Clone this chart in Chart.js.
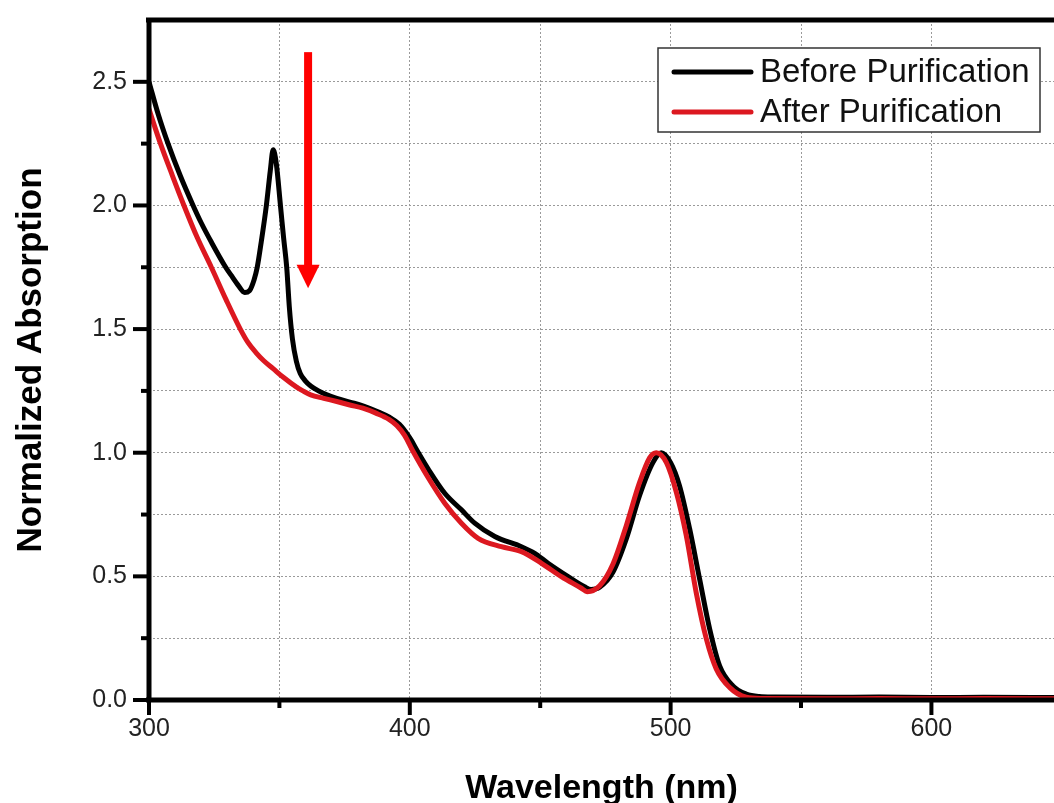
<!DOCTYPE html>
<html>
<head>
<meta charset="utf-8">
<script src="https://cdn.jsdelivr.net/npm/chart.js@4.4.1/dist/chart.umd.min.js"></script>
<style>
  html, body { margin: 0; padding: 0; background: #fff; }
  #spectrum { display: block; }
</style>
</head>
<body>
<canvas id="spectrum" width="1054" height="803"></canvas>
<script>
// ==========================
// DONNÉES
// ==========================
const wlBefore = [300, 303.5, 307.3, 312, 316.9, 320, 324, 329.4, 332, 334, 336.7, 338.5, 340.3, 341.5, 343, 345, 346.5, 347.6, 348.8, 350.4, 351.6, 352.8, 353.8, 355, 356.5, 358, 360, 362, 365, 368, 372, 377, 382, 388, 392, 396, 400, 403, 407, 413.4, 419.8, 424.9, 432.6, 442.8, 447.9, 453, 460.7, 467, 469.5, 472.8, 477.9, 483, 488.1, 493.2, 496.4, 500, 503.4, 507.3, 511.1, 515, 518.8, 523.9, 529, 534, 540, 560, 580, 600, 620, 647];
const absBefore = [2.50, 2.37, 2.25, 2.12, 2.00, 1.93, 1.85, 1.75, 1.71, 1.68, 1.648, 1.655, 1.70, 1.75, 1.85, 2.00, 2.14, 2.225, 2.17, 2.00, 1.87, 1.75, 1.59, 1.46, 1.37, 1.32, 1.29, 1.27, 1.25, 1.235, 1.22, 1.205, 1.19, 1.165, 1.145, 1.115, 1.06, 1.005, 0.935, 0.836, 0.769, 0.715, 0.661, 0.62, 0.593, 0.553, 0.499, 0.458, 0.447, 0.456, 0.517, 0.651, 0.827, 0.96, 1.00, 0.96, 0.867, 0.692, 0.49, 0.286, 0.138, 0.057, 0.024, 0.014, 0.012, 0.011, 0.012, 0.01, 0.011, 0.01];

const wlAfter = [300, 302, 304.4, 309, 313.4, 318.5, 323.9, 329.5, 335, 338, 341, 344, 347.6, 351.5, 356.6, 359, 362, 367, 372, 377, 382, 387, 392, 395, 398, 401, 407, 413.4, 419.8, 426.2, 435.1, 442.8, 450.5, 458.1, 465.8, 468, 472.8, 477.9, 483, 488.1, 492, 494.5, 498.4, 502.2, 506, 509.8, 513.7, 517.5, 522.6, 529, 535, 560, 580, 600, 620, 647];
const absAfter = [2.39, 2.325, 2.25, 2.12, 2.00, 1.87, 1.75, 1.62, 1.50, 1.445, 1.405, 1.372, 1.34, 1.305, 1.265, 1.25, 1.234, 1.22, 1.207, 1.193, 1.18, 1.16, 1.135, 1.11, 1.07, 1.01, 0.90, 0.796, 0.715, 0.654, 0.62, 0.60, 0.553, 0.499, 0.452, 0.438, 0.462, 0.55, 0.705, 0.88, 0.98, 1.00, 0.96, 0.84, 0.665, 0.435, 0.247, 0.126, 0.051, 0.011, 0.006, 0.005, 0.006, 0.005, 0.006, 0.005];

const xTicks = [300, 350, 400, 450, 500, 550, 600];
const xTickLabels = ["300", "", "400", "", "500", "", "600"];
const yTicks = [0, 0.25, 0.5, 0.75, 1.0, 1.25, 1.5, 1.75, 2.0, 2.25, 2.5, 2.75];
const yTickLabels = ["0.0", "", "0.5", "", "1.0", "", "1.5", "", "2.0", "", "2.5", ""];

const seriesNames = ["Before Purification", "After Purification"];
const seriesColors = ["#000000", "#dc1820"];

// flèche rouge (en unités des axes)
const arrowX = 361;
const arrowTop = 2.62;
const arrowHeadBase = 1.76;
const arrowTip = 1.665;

const FONT = "'Liberation Sans', Arial, sans-serif";

/* =======================================================
   CADRE + GRADUATIONS
======================================================= */
const framePlugin = {
  id: "frame",
  afterDatasetsDraw(chart) {
    const { ctx, chartArea } = chart;
    const { left, right, top, bottom } = chartArea;
    const xs = chart.scales.x;
    const ys = chart.scales.y;

    ctx.save();
    ctx.strokeStyle = "#000";
    ctx.lineCap = "butt";

    // graduations
    ctx.lineWidth = 4;
    xTicks.forEach((v, i) => {
      const px = xs.getPixelForValue(v);
      const len = xTickLabels[i] ? 15 : 8;
      ctx.beginPath();
      ctx.moveTo(px, bottom);
      ctx.lineTo(px, bottom + len);
      ctx.stroke();
    });
    yTicks.forEach((v, i) => {
      if (v === 2.75) return;
      const py = ys.getPixelForValue(v);
      const len = yTickLabels[i] ? 16 : 8;
      ctx.beginPath();
      ctx.moveTo(left, py);
      ctx.lineTo(left - len, py);
      ctx.stroke();
    });

    // axes
    ctx.lineWidth = 5;
    ctx.beginPath();
    ctx.moveTo(left - 3, top);
    ctx.lineTo(right, top);
    ctx.moveTo(left, top - 2.5);
    ctx.lineTo(left, bottom + 2.5);
    ctx.moveTo(left - 3, bottom);
    ctx.lineTo(right, bottom);
    ctx.stroke();
    ctx.restore();
  },
};

/* =======================================================
   FLÈCHE + LÉGENDE
======================================================= */
const annotPlugin = {
  id: "annot",
  afterDraw(chart) {
    const { ctx } = chart;
    const xs = chart.scales.x;
    const ys = chart.scales.y;

    // flèche
    const ax = xs.getPixelForValue(arrowX);
    const y0 = ys.getPixelForValue(arrowTop);
    const yb = ys.getPixelForValue(arrowHeadBase);
    const yt = ys.getPixelForValue(arrowTip);
    ctx.save();
    ctx.fillStyle = "#ff0000";
    ctx.fillRect(ax - 4, y0, 8, yb - y0 + 1);
    ctx.beginPath();
    ctx.moveTo(ax - 11.5, yb);
    ctx.lineTo(ax + 11.5, yb);
    ctx.lineTo(ax, yt);
    ctx.closePath();
    ctx.fill();

    // légende
    const bx = 658, by = 48, bw = 382, bh = 84;
    ctx.fillStyle = "#fff";
    ctx.fillRect(bx, by, bw, bh);
    ctx.strokeStyle = "#333";
    ctx.lineWidth = 1.5;
    ctx.strokeRect(bx, by, bw, bh);

    const rows = [72, 112];
    ctx.font = `33px ${FONT}`;
    ctx.textBaseline = "middle";
    ctx.textAlign = "left";
    rows.forEach((ry, i) => {
      ctx.strokeStyle = seriesColors[i];
      ctx.lineWidth = 5;
      ctx.lineCap = "round";
      ctx.beginPath();
      ctx.moveTo(674, ry);
      ctx.lineTo(751, ry);
      ctx.stroke();
      ctx.fillStyle = "#111";
      ctx.fillText(seriesNames[i], 760, ry + 1);
    });
    ctx.restore();
  },
};

/* =======================================================
   GRAPHIQUE
======================================================= */
function toPoints(xs, ys) {
  return xs.map((x, i) => ({ x, y: ys[i] }));
}

function buildChart() {
  const ctx = document.getElementById("spectrum").getContext("2d");

  return new Chart(ctx, {
    type: "line",
    data: {
      datasets: [
        {
          label: seriesNames[0],
          data: toPoints(wlBefore, absBefore),
          borderColor: seriesColors[0],
          borderWidth: 5,
          pointRadius: 0,
          cubicInterpolationMode: "monotone",
          order: 1,
        },
        {
          label: seriesNames[1],
          data: toPoints(wlAfter, absAfter),
          borderColor: seriesColors[1],
          borderWidth: 5,
          pointRadius: 0,
          cubicInterpolationMode: "monotone",
          order: 0,
        },
      ],
    },
    options: {
      responsive: false,
      animation: false,
      devicePixelRatio: 1,
      layout: { padding: { top: 20, left: 0, right: 0, bottom: 0 } },
      plugins: {
        legend: { display: false },
        tooltip: { enabled: false },
      },
      scales: {
        x: {
          type: "linear",
          min: 300,
          max: 647,
          afterBuildTicks: (scale) => {
            scale.ticks = xTicks.map((v) => ({ value: v }));
          },
          afterFit: (scale) => {
            scale.height = 103;
            scale.paddingLeft = 0;
            scale.paddingRight = 0;
          },
          ticks: {
            autoSkip: false,
            maxRotation: 0,
            padding: 14,
            color: "#222",
            font: { family: FONT, size: 25 },
            callback: (v) => xTickLabels[xTicks.indexOf(v)] ?? "",
          },
          grid: {
            color: "#9a9a9a",
            lineWidth: 1,
            drawTicks: false,
          },
          border: { display: false, dash: [2, 2] },
          title: {
            display: true,
            text: "Wavelength (nm)",
            color: "#000",
            font: { family: FONT, size: 34, weight: "bold", lineHeight: 1.0 },
            padding: { top: 0, bottom: -3 },
          },
        },
        y: {
          type: "linear",
          min: 0,
          max: 2.75,
          afterBuildTicks: (scale) => {
            scale.ticks = yTicks.map((v) => ({ value: v }));
          },
          afterFit: (scale) => {
            scale.width = 149;
            scale.paddingTop = 0;
            scale.paddingBottom = 0;
          },
          ticks: {
            autoSkip: false,
            padding: 22,
            color: "#222",
            font: { family: FONT, size: 25 },
            callback: (v) => yTickLabels[yTicks.indexOf(v)] ?? "",
          },
          grid: {
            color: "#9a9a9a",
            lineWidth: 1,
            drawTicks: false,
          },
          border: { display: false, dash: [2, 2] },
          title: {
            display: true,
            text: "Normalized Absorption",
            color: "#000",
            font: { family: FONT, size: 35, weight: "bold", lineHeight: 1.2 },
            padding: { top: 10, bottom: 0 },
          },
        },
      },
    },
    plugins: [framePlugin, annotPlugin],
  });
}

document.addEventListener("DOMContentLoaded", buildChart);
</script>
</body>
</html>
